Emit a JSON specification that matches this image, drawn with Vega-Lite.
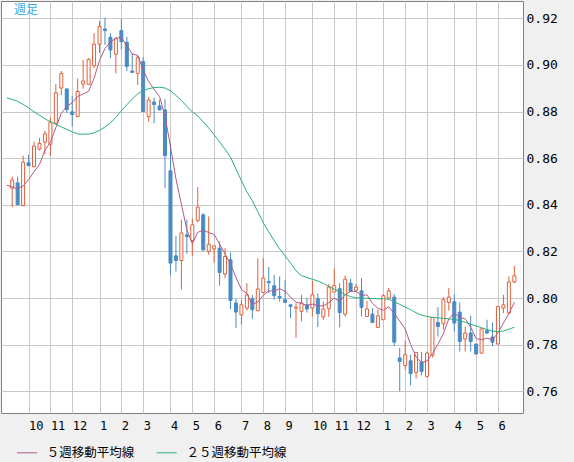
{
"$schema": "https://vega.github.io/schema/vega-lite/v6.json",
"width": 522, "height": 412,
"autosize": {"type": "none"},
"padding": {"left": 1, "top": 1, "right": 51, "bottom": 49},
"background": "#f0f0f0",
"config": {
  "view": {"fill": "white", "stroke": "#808080", "strokeWidth": 1},
  "axis": {"domain": false, "ticks": false, "tickSize": 0, "gridColor": "#c8c8c8", "gridWidth": 1, "labelColor": "#000000", "labelFont": "DejaVu Sans Mono", "title": null}
},
"title": {"text": "週足", "anchor": "start", "frame": "group", "color": "#35aaee", "font": "Noto Sans CJK JP", "fontSize": 12, "fontWeight": "normal", "baseline": "top", "offset": -4, "dy": 12, "dx": 13},
"data": {"values": [
{"i":-1,"m5":0.8484,"m25":0.8859},
{"i":0,"o":0.8471,"h":0.8521,"l":0.8390,"c":0.8506,"m5":0.8477,"m25":0.8852},
{"i":1,"o":0.8494,"h":0.8521,"l":0.8398,"c":0.8400,"m5":0.8468,"m25":0.8844},
{"i":2,"o":0.8397,"h":0.8611,"l":0.8393,"c":0.8583,"m5":0.8481,"m25":0.8831},
{"i":3,"o":0.8580,"h":0.8614,"l":0.8565,"c":0.8568,"m5":0.8507,"m25":0.8816},
{"i":4,"o":0.8564,"h":0.8671,"l":0.8560,"c":0.8652,"m5":0.8542,"m25":0.8799},
{"i":5,"o":0.8639,"h":0.8687,"l":0.8633,"c":0.8664,"m5":0.8573,"m25":0.8784},
{"i":6,"o":0.8669,"h":0.8717,"l":0.8617,"c":0.8704,"m5":0.8634,"m25":0.8769},
{"i":7,"o":0.8660,"h":0.8774,"l":0.8610,"c":0.8754,"m5":0.8668,"m25":0.8756},
{"i":8,"o":0.8750,"h":0.8918,"l":0.8748,"c":0.8880,"m5":0.8731,"m25":0.8745},
{"i":9,"o":0.8901,"h":0.8974,"l":0.8871,"c":0.8963,"m5":0.8793,"m25":0.8734},
{"i":10,"o":0.8897,"h":0.8900,"l":0.8795,"c":0.8808,"m5":0.8822,"m25":0.8724},
{"i":11,"o":0.8799,"h":0.8867,"l":0.8736,"c":0.8787,"m5":0.8838,"m25":0.8713},
{"i":12,"o":0.8779,"h":0.8942,"l":0.8777,"c":0.8886,"m5":0.8865,"m25":0.8704},
{"i":13,"o":0.8918,"h":0.9021,"l":0.8898,"c":0.8931,"m5":0.8875,"m25":0.8703},
{"i":14,"o":0.8917,"h":0.9029,"l":0.8915,"c":0.9024,"m5":0.8887,"m25":0.8703},
{"i":15,"o":0.8997,"h":0.9136,"l":0.8986,"c":0.9089,"m5":0.8943,"m25":0.8709},
{"i":16,"o":0.9089,"h":0.9188,"l":0.9051,"c":0.9165,"m5":0.9019,"m25":0.8719},
{"i":17,"o":0.9154,"h":0.9203,"l":0.9086,"c":0.9147,"m5":0.9071,"m25":0.8734},
{"i":18,"o":0.9119,"h":0.9137,"l":0.9029,"c":0.9064,"m5":0.9098,"m25":0.8751},
{"i":19,"o":0.9046,"h":0.9119,"l":0.8964,"c":0.9112,"m5":0.9115,"m25":0.8775},
{"i":20,"o":0.9147,"h":0.9196,"l":0.9067,"c":0.9100,"m5":0.9118,"m25":0.8803},
{"i":21,"o":0.9097,"h":0.9120,"l":0.8974,"c":0.8993,"m5":0.9083,"m25":0.8829},
{"i":22,"o":0.8974,"h":0.9050,"l":0.8966,"c":0.8968,"m5":0.9047,"m25":0.8854},
{"i":23,"o":0.8964,"h":0.9040,"l":0.8914,"c":0.9033,"m5":0.9041,"m25":0.8876},
{"i":24,"o":0.9014,"h":0.9033,"l":0.8798,"c":0.8800,"m5":0.8979,"m25":0.8891},
{"i":25,"o":0.8778,"h":0.8862,"l":0.8757,"c":0.8850,"m5":0.8929,"m25":0.8898},
{"i":26,"o":0.8841,"h":0.8860,"l":0.8750,"c":0.8830,"m5":0.8896,"m25":0.8903},
{"i":27,"o":0.8824,"h":0.8850,"l":0.8805,"c":0.8807,"m5":0.8864,"m25":0.8904},
{"i":28,"o":0.8807,"h":0.8853,"l":0.8471,"c":0.8611,"m5":0.8780,"m25":0.8901},
{"i":29,"o":0.8546,"h":0.8664,"l":0.8097,"c":0.8150,"m5":0.8650,"m25":0.8889},
{"i":30,"o":0.8181,"h":0.8267,"l":0.8114,"c":0.8161,"m5":0.8512,"m25":0.8869},
{"i":31,"o":0.8161,"h":0.8336,"l":0.8036,"c":0.8279,"m5":0.8402,"m25":0.8848},
{"i":32,"o":0.8271,"h":0.8336,"l":0.8190,"c":0.8264,"m5":0.8293,"m25":0.8822},
{"i":33,"o":0.8247,"h":0.8340,"l":0.8181,"c":0.8314,"m5":0.8234,"m25":0.8799},
{"i":34,"o":0.8333,"h":0.8476,"l":0.8324,"c":0.8390,"m5":0.8282,"m25":0.8781},
{"i":35,"o":0.8357,"h":0.8364,"l":0.8200,"c":0.8207,"m5":0.8291,"m25":0.8756},
{"i":36,"o":0.8200,"h":0.8350,"l":0.8186,"c":0.8231,"m5":0.8281,"m25":0.8730},
{"i":37,"o":0.8211,"h":0.8226,"l":0.8153,"c":0.8224,"m5":0.8273,"m25":0.8700},
{"i":38,"o":0.8214,"h":0.8243,"l":0.8053,"c":0.8110,"m5":0.8232,"m25":0.8670},
{"i":39,"o":0.8103,"h":0.8214,"l":0.8086,"c":0.8178,"m5":0.8190,"m25":0.8638},
{"i":40,"o":0.8164,"h":0.8195,"l":0.7953,"c":0.7990,"m5":0.8147,"m25":0.8604},
{"i":41,"o":0.7979,"h":0.7997,"l":0.7871,"c":0.7940,"m5":0.8088,"m25":0.8554},
{"i":42,"o":0.7928,"h":0.7993,"l":0.7886,"c":0.7971,"m5":0.8038,"m25":0.8503},
{"i":43,"o":0.7957,"h":0.8064,"l":0.7946,"c":0.8014,"m5":0.8019,"m25":0.8456},
{"i":44,"o":0.7997,"h":0.8014,"l":0.7911,"c":0.7950,"m5":0.7973,"m25":0.8417},
{"i":45,"o":0.7946,"h":0.8171,"l":0.7943,"c":0.8039,"m5":0.7983,"m25":0.8370},
{"i":46,"o":0.8024,"h":0.8171,"l":0.8020,"c":0.8086,"m5":0.8012,"m25":0.8323},
{"i":47,"o":0.8071,"h":0.8133,"l":0.8021,"c":0.8066,"m5":0.8031,"m25":0.8284},
{"i":48,"o":0.8053,"h":0.8100,"l":0.7993,"c":0.8010,"m5":0.8030,"m25":0.8246},
{"i":49,"o":0.8007,"h":0.8093,"l":0.7985,"c":0.8001,"m5":0.8040,"m25":0.8211},
{"i":50,"o":0.7993,"h":0.8078,"l":0.7979,"c":0.7981,"m5":0.8029,"m25":0.8181},
{"i":51,"o":0.7971,"h":0.7973,"l":0.7914,"c":0.7964,"m5":0.8004,"m25":0.8151},
{"i":52,"o":0.7957,"h":0.7979,"l":0.7829,"c":0.7961,"m5":0.7983,"m25":0.8117},
{"i":53,"o":0.7943,"h":0.8014,"l":0.7900,"c":0.7979,"m5":0.7977,"m25":0.8096},
{"i":54,"o":0.7971,"h":0.8000,"l":0.7938,"c":0.7953,"m5":0.7968,"m25":0.8088},
{"i":55,"o":0.7957,"h":0.8075,"l":0.7921,"c":0.8014,"m5":0.7974,"m25":0.8081},
{"i":56,"o":0.7997,"h":0.8021,"l":0.7876,"c":0.7933,"m5":0.7968,"m25":0.8073},
{"i":57,"o":0.7919,"h":0.7985,"l":0.7907,"c":0.7953,"m5":0.7966,"m25":0.8063},
{"i":58,"o":0.7954,"h":0.8060,"l":0.7919,"c":0.8047,"m5":0.7980,"m25":0.8050},
{"i":59,"o":0.8026,"h":0.8126,"l":0.8024,"c":0.8053,"m5":0.8000,"m25":0.8038},
{"i":60,"o":0.8040,"h":0.8064,"l":0.7874,"c":0.7938,"m5":0.7985,"m25":0.8027},
{"i":61,"o":0.7931,"h":0.8097,"l":0.7921,"c":0.8081,"m5":0.8014,"m25":0.8016},
{"i":62,"o":0.8064,"h":0.8083,"l":0.8026,"c":0.8028,"m5":0.8029,"m25":0.8006},
{"i":63,"o":0.8034,"h":0.8060,"l":0.8028,"c":0.8047,"m5":0.8029,"m25":0.8001},
{"i":64,"o":0.8031,"h":0.8086,"l":0.7921,"c":0.7960,"m5":0.8011,"m25":0.8000},
{"i":65,"o":0.7921,"h":0.7988,"l":0.7919,"c":0.7953,"m5":0.8014,"m25":0.7999},
{"i":66,"o":0.7931,"h":0.7957,"l":0.7893,"c":0.7895,"m5":0.7977,"m25":0.7998},
{"i":67,"o":0.7874,"h":0.7950,"l":0.7872,"c":0.7924,"m5":0.7956,"m25":0.7997},
{"i":68,"o":0.7907,"h":0.8017,"l":0.7905,"c":0.8010,"m5":0.7948,"m25":0.7997},
{"i":69,"o":0.8000,"h":0.8043,"l":0.7998,"c":0.8031,"m5":0.7963,"m25":0.7995},
{"i":70,"o":0.8004,"h":0.8017,"l":0.7793,"c":0.7811,"m5":0.7934,"m25":0.7984},
{"i":71,"o":0.7743,"h":0.7786,"l":0.7600,"c":0.7728,"m5":0.7901,"m25":0.7973},
{"i":72,"o":0.7711,"h":0.7817,"l":0.7693,"c":0.7757,"m5":0.7867,"m25":0.7961},
{"i":73,"o":0.7731,"h":0.7757,"l":0.7625,"c":0.7676,"m5":0.7801,"m25":0.7950},
{"i":74,"o":0.7681,"h":0.7769,"l":0.7655,"c":0.7767,"m5":0.7748,"m25":0.7937},
{"i":75,"o":0.7726,"h":0.7769,"l":0.7668,"c":0.7685,"m5":0.7723,"m25":0.7927},
{"i":76,"o":0.7664,"h":0.7771,"l":0.7660,"c":0.7764,"m5":0.7730,"m25":0.7921},
{"i":77,"o":0.7755,"h":0.7917,"l":0.7745,"c":0.7917,"m5":0.7762,"m25":0.7917},
{"i":78,"o":0.7895,"h":0.7961,"l":0.7835,"c":0.7878,"m5":0.7802,"m25":0.7915},
{"i":79,"o":0.7890,"h":0.8004,"l":0.7864,"c":0.7993,"m5":0.7847,"m25":0.7913},
{"i":80,"o":0.7981,"h":0.8043,"l":0.7946,"c":0.8004,"m5":0.7911,"m25":0.7911},
{"i":81,"o":0.7984,"h":0.8017,"l":0.7857,"c":0.7893,"m5":0.7937,"m25":0.7908},
{"i":82,"o":0.7940,"h":0.7981,"l":0.7771,"c":0.7814,"m5":0.7916,"m25":0.7904},
{"i":83,"o":0.7824,"h":0.7878,"l":0.7771,"c":0.7850,"m5":0.7911,"m25":0.7896},
{"i":84,"o":0.7850,"h":0.7924,"l":0.7771,"c":0.7814,"m5":0.7875,"m25":0.7888},
{"i":85,"o":0.7803,"h":0.7803,"l":0.7757,"c":0.7760,"m5":0.7826,"m25":0.7880},
{"i":86,"o":0.7764,"h":0.7868,"l":0.7761,"c":0.7868,"m5":0.7821,"m25":0.7873},
{"i":87,"o":0.7860,"h":0.7907,"l":0.7847,"c":0.7850,"m5":0.7828,"m25":0.7865},
{"i":88,"o":0.7833,"h":0.7895,"l":0.7793,"c":0.7811,"m5":0.7821,"m25":0.7858},
{"i":89,"o":0.7803,"h":0.7967,"l":0.7800,"c":0.7964,"m5":0.7851,"m25":0.7856},
{"i":90,"o":0.7957,"h":0.8014,"l":0.7936,"c":0.7971,"m5":0.7893,"m25":0.7859},
{"i":91,"o":0.7936,"h":0.8093,"l":0.7931,"c":0.8069,"m5":0.7933,"m25":0.7866},
{"i":92,"o":0.8069,"h":0.8138,"l":0.8064,"c":0.8096,"m5":0.7982,"m25":0.7875}
]},
"encoding": {
  "x": {"field": "i", "type": "quantitative",
    "scale": {"domain": [-1.132, 92.67], "nice": false, "zero": false},
    "axis": {"values": [3,7,11,16,20,24,29,33,37,42,46,50,55,59,63,68,72,76,81,85,89],
      "labelExpr": "['10','11','12','1','2','3','4','5','6','7','8','9','10','11','12','1','2','3','4','5','6'][indexof([3,7,11,16,20,24,29,33,37,42,46,50,55,59,63,68,72,76,81,85,89], datum.value)]",
      "grid": true, "labelAlign": "left", "labelDx": -4, "labelPadding": 7, "labelFontSize": 12, "labelFlush": false, "labelOverlap": false}}
},
"layer": [
  {"transform": [{"filter": "isValid(datum.o)"}],
   "mark": {"type": "rule", "strokeWidth": 1},
   "encoding": {
     "y": {"field": "l", "type": "quantitative",
       "scale": {"domain": [0.7507, 0.92742], "nice": false, "zero": false},
       "axis": {"orient": "right", "values": [0.76,0.78,0.80,0.82,0.84,0.86,0.88,0.90,0.92], "format": ".2f", "grid": true, "labelFontSize": 13, "labelPadding": 3, "labelAlign": "left", "labelFlush": false}},
     "y2": {"field": "h"},
     "color": {"condition": {"test": "datum.c >= datum.o", "value": "#e0603c"}, "value": "#4a8bc4"}}},
  {"transform": [{"filter": "isValid(datum.o)"}],
   "mark": {"type": "bar", "width": 3, "strokeWidth": 1},
   "encoding": {
     "y": {"field": "o", "type": "quantitative", "scale": {"domain": [0.7507, 0.92742], "nice": false, "zero": false}},
     "y2": {"field": "c"},
     "fill": {"condition": {"test": "datum.c >= datum.o", "value": "#ffffff"}, "value": "#4a8bc4"},
     "stroke": {"condition": {"test": "datum.c >= datum.o", "value": "#e0603c"}, "value": "#4a8bc4"}}},
  {"transform": [{"fold": ["m5", "m25"], "as": ["s", "v"]}, {"filter": "isValid(datum.v)"}],
   "mark": {"type": "line", "strokeWidth": 1},
   "encoding": {
     "y": {"field": "v", "type": "quantitative", "scale": {"domain": [0.7507, 0.92742], "nice": false, "zero": false}},
     "color": {"field": "s", "type": "nominal",
       "scale": {"domain": ["m5", "m25"], "range": ["#b4588a", "#28b07a"]},
       "legend": {"orient": "none", "legendX": 15.5, "legendY": 441.3, "direction": "horizontal", "title": null,
         "symbolType": "stroke", "symbolSize": 400, "symbolStrokeWidth": 1,
         "labelFont": "Noto Sans CJK JP", "labelFontSize": 12.5, "labelColor": "#000000", "labelOffset": 9.3,
         "columnPadding": 19.7, "padding": 0,
         "labelExpr": "datum.value == 'm5' ? '５週移動平均線' : '２５週移動平均線'"}}}}
]
}
